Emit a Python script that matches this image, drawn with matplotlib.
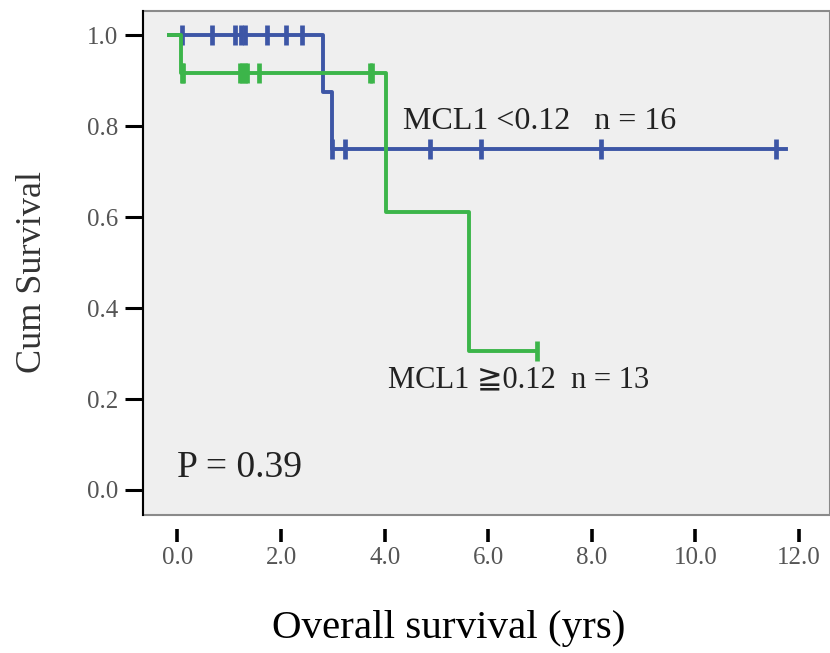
import numpy as np
import matplotlib
matplotlib.use("Agg")
import matplotlib.pyplot as plt
from matplotlib.patches import Rectangle

# Kaplan-Meier steps (time in years, cumulative survival)
low_times = [-0.17, 2.81, 2.98, 11.76]
low_surv = [1.0, 0.875, 0.75, 0.75]
low_censored = [0.08, 0.67, 1.12, 1.22, 1.30, 1.72, 2.10, 2.41,
                2.98, 3.24, 4.87, 5.87, 8.18, 11.56]

high_times = [-0.17, 0.07, 4.03, 5.62, 6.95]
high_surv = [1.0, 0.917, 0.611, 0.305, 0.305]
high_censored = [0.08, 0.10, 1.20, 1.25, 1.30, 1.35, 1.57, 3.72, 3.76, 6.95]

x_ticks = [0, 2, 4, 6, 8, 10, 12]
y_ticks = [0.0, 0.2, 0.4, 0.6, 0.8, 1.0]

BLUE = "#3d56a6"
GREEN = "#3cb54a"
SERIF = ["Liberation Serif", "DejaVu Serif", "DejaVu Sans"]


def surv_at(times, surv, t):
    """Value of the step function at time t (right-continuous)."""
    idx = np.searchsorted(times, t, side="right") - 1
    return np.asarray(surv)[idx]


fig = plt.figure(figsize=(8.3, 6.53), dpi=100)
ax = fig.add_axes([0.1723, 0.2113, 0.8277, 0.7718])
ax.set_facecolor("#efefef")

# curves
ax.plot(low_times, low_surv, drawstyle="steps-post", color=BLUE, lw=2.8, zorder=3)
ax.plot(low_censored, surv_at(low_times, low_surv, low_censored), ls="none",
        marker="|", ms=14, mew=3.4, color=BLUE, zorder=3)
ax.plot(high_times, high_surv, drawstyle="steps-post", color=GREEN, lw=2.8, zorder=4)
ax.plot(high_censored, surv_at(high_times, high_surv, high_censored), ls="none",
        marker="|", ms=14, mew=3.4, color=GREEN, zorder=4)

ax.set_xlim(-0.666, 12.6)
ax.set_ylim(-0.055, 1.0527)

# box border (bottom ticks sit detached below it)
for side in ["top", "right", "bottom"]:
    ax.spines[side].set_visible(False)
ax.add_patch(Rectangle((0, 0), 1, 1, transform=ax.transAxes, fill=False,
                       edgecolor="#8a8a8a", lw=1.5, zorder=5, clip_on=False))
ax.spines["left"].set_color("black")
ax.spines["left"].set_linewidth(1.5)
ax.spines["left"].set_zorder(6)
ax.spines["bottom"].set_position(("outward", 10))

ax.set_xticks(x_ticks)
ax.set_xticklabels([f"{v:.1f}" for v in x_ticks])
ax.set_yticks(y_ticks)
ax.set_yticklabels([f"{v:.1f}" for v in y_ticks])
ax.tick_params(axis="x", direction="out", length=9, width=2.6, color="black",
               labelsize=18, labelcolor="#555555", pad=4)
ax.tick_params(axis="y", direction="out", length=13, width=2.2, color="black",
               labelsize=18, labelcolor="#555555", pad=5)
for lab in ax.get_xticklabels() + ax.get_yticklabels():
    lab.set_family(SERIF)

fig.text(0.039, 0.583, "Cum Survival", family=SERIF, fontsize=26, rotation=90,
         color="#333333", ha="center", va="center")
fig.text(0.540, 0.038, "Overall survival (yrs)", family=SERIF, fontsize=29.5,
         ha="center", va="center", color="black")

ax.text(4.35, 0.809, "MCL1 <0.12   n = 16", family=SERIF, fontsize=23,
        color="#222222", ha="left", va="center")
ax.text(4.06, 0.242, "MCL1 \u22670.12  n = 13", family=SERIF, fontsize=22,
        color="#222222", ha="left", va="center")
ax.text(0.0, 0.048, "P = 0.39", family=SERIF, fontsize=27,
        color="#222222", ha="left", va="center")

fig.savefig("out.png", dpi=100)
